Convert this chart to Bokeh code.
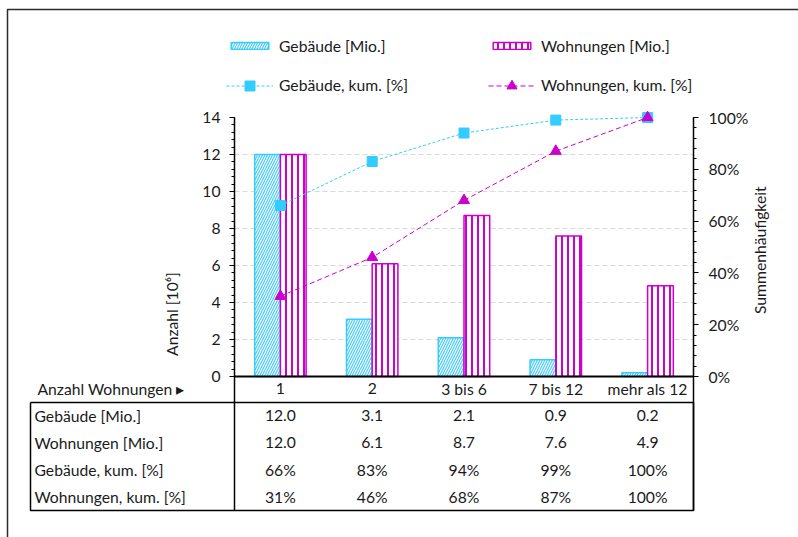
import math
from bokeh.plotting import figure
from bokeh.models import (Range1d, LinearAxis, FixedTicker, PrintfTickFormatter,
                          Legend, LegendItem, ColumnDataSource)
from bokeh.transform import dodge
from bokeh.core.properties import value
from bokeh.embed import file_html
from bokeh.resources import INLINE

# ---- data ---------------------------------------------------------------
categories = ["1", "2", "3 bis 6", "7 bis 12", "mehr als 12"]
gebaeude_mio = [12.0, 3.1, 2.1, 0.9, 0.2]
wohnungen_mio = [12.0, 6.1, 8.7, 7.6, 4.9]
gebaeude_kum = [66, 83, 94, 99, 100]
wohnungen_kum = [31, 46, 68, 87, 100]

row_names = ["Gebäude [Mio.]", "Wohnungen [Mio.]",
             "Gebäude, kum. [%]", "Wohnungen, kum. [%]"]
left_ticks = [0, 2, 4, 6, 8, 10, 12, 14]
right_ticks = [0, 20, 40, 60, 80, 100]

# ---- layout (pixels) ----------------------------------------------------
W, H = 798, 537
AX_L, AX_R = 234, 693        # left / right value axes
AX_TOP, TABLE_BOTTOM = 117, 510
Y0_PX = 376                  # pixel row of the value 0
Y_MAX = 14
n = len(categories)
unit_px = (Y0_PX - AX_TOP) / Y_MAX
cat_px = (AX_R - AX_L) / n


def dx(px):
    """canvas x pixel -> category coordinate"""
    return -0.5 + (px - AX_L) / cat_px


def dy(py):
    """canvas y pixel -> value coordinate (left axis)"""
    return (Y0_PX - py) / unit_px


def pct(v):
    return v / Y_MAX * 100


CYAN = "#33CCFF"
CYAN_HATCH = "#45CDFA"
MAGENTA = "#CC00CC"
TXT = "#1a1a1a"
FONT = "Lato"
FS = "15.7px"

# the frame fills the whole canvas; the axes sit at fixed locations in it
p = figure(width=W, height=H, x_range=Range1d(dx(0), dx(W)),
           y_range=Range1d(dy(H), dy(0)), output_backend="svg",
           toolbar_location=None, x_axis_location=None, y_axis_location=None,
           min_border=0, min_border_left=0, min_border_right=0,
           min_border_top=0, min_border_bottom=0)
p.outline_line_color = None
p.background_fill_color = "white"
p.border_fill_color = "white"
p.xgrid.visible = False
p.ygrid.visible = False

p.extra_y_ranges = {"pct": Range1d(pct(dy(H)), pct(dy(0)))}

# ---- horizontal gridlines (between the two value axes) ------------------
grid_vals = left_ticks[1:-1]
p.segment(x0=[dx(AX_L)] * len(grid_vals), y0=grid_vals,
          x1=[dx(AX_R)] * len(grid_vals), y1=grid_vals,
          line_color="#d9d9d9", line_width=1, line_dash="5 3")

# ---- axes ---------------------------------------------------------------
ya = LinearAxis(fixed_location=dx(AX_L), bounds=(dy(TABLE_BOTTOM), Y_MAX),
                ticker=FixedTicker(ticks=left_ticks,
                                   minor_ticks=[i * 0.4 for i in range(36)]),
                axis_label="Anzahl [10⁶]")
p.add_layout(ya, "left")

ra = LinearAxis(y_range_name="pct", fixed_location=dx(AX_R),
                bounds=(pct(dy(TABLE_BOTTOM)), 100),
                ticker=FixedTicker(ticks=right_ticks,
                                   minor_ticks=list(range(0, 101, 4))),
                formatter=PrintfTickFormatter(format="%d%%"),
                axis_label="Summenhäufigkeit",
                axis_label_orientation=math.pi / 2)
p.add_layout(ra, "right")

for ax in (ya, ra):
    ax.axis_line_color = "black"
    ax.axis_line_width = 1.5
    ax.major_tick_line_color = "black"
    ax.minor_tick_line_color = "black"
    ax.major_tick_in = 0
    ax.major_tick_out = 5
    ax.minor_tick_in = 0
    ax.minor_tick_out = 3
    ax.major_label_text_font = FONT
    ax.major_label_text_font_size = FS
    ax.major_label_text_color = TXT
    ax.axis_label_text_font = FONT
    ax.axis_label_text_font_size = FS
    ax.axis_label_text_font_style = "normal"
    ax.axis_label_text_color = TXT
ya.major_label_standoff = 9
ya.axis_label_standoff = 18
ra.major_label_standoff = 10
ra.axis_label_standoff = 9

# ---- bars and cumulative lines -----------------------------------------
src = ColumnDataSource(dict(x=list(range(n)), geb=gebaeude_mio,
                            woh=wohnungen_mio, gk=gebaeude_kum,
                            wk=wohnungen_kum))

r_geb = p.vbar(x=dodge("x", -0.14), top="geb", width=0.28, source=src,
               fill_color="white", line_color=CYAN, line_width=1.5,
               hatch_pattern="/", hatch_color=CYAN_HATCH, hatch_scale=5,
               hatch_weight=1.2)
r_woh = p.vbar(x=dodge("x", 0.14), top="woh", width=0.28, source=src,
               fill_color="white", line_color=MAGENTA, line_width=1.5,
               hatch_pattern="|", hatch_color=MAGENTA, hatch_scale=6,
               hatch_weight=2)

# category axis line
p.segment(x0=dx(AX_L), y0=0, x1=dx(AX_R), y1=0, line_color="black",
          line_width=2)

r_gl = p.line("x", "gk", source=src, y_range_name="pct", line_color=CYAN,
              line_width=1, line_dash="3 2")
r_gs = p.scatter("x", "gk", source=src, y_range_name="pct", marker="square",
                 size=10, fill_color=CYAN, line_color=CYAN)
r_wl = p.line("x", "wk", source=src, y_range_name="pct", line_color=MAGENTA,
              line_width=1, line_dash="5 3")
r_ws = p.scatter("x", "wk", source=src, y_range_name="pct",
                 marker="triangle", size=11, fill_color=MAGENTA,
                 line_color=MAGENTA)


# ---- legends ------------------------------------------------------------
def make_legend(items, glyph_h, center_py):
    h = max(glyph_h, 19)
    leg = Legend(items=items, orientation="horizontal",
                 location=(226, H - center_py - h / 2),
                 glyph_width=47, glyph_height=glyph_h, label_standoff=6,
                 label_width=209, spacing=0, padding=0, margin=0,
                 border_line_color=None, background_fill_alpha=0,
                 label_text_font=FONT, label_text_font_size=FS,
                 label_text_color=TXT)
    p.add_layout(leg)


make_legend([LegendItem(label="Gebäude [Mio.]", renderers=[r_geb]),
             LegendItem(label="Wohnungen [Mio.]", renderers=[r_woh])], 9, 45)
make_legend([LegendItem(label="Gebäude, kum. [%]", renderers=[r_gl, r_gs]),
             LegendItem(label="Wohnungen, kum. [%]", renderers=[r_wl, r_ws])],
            25, 85)

# ---- data table below the chart ----------------------------------------
cat_row_py = 388
row_py = [415, 442, 469, 496]
TABLE_TOP, TABLE_LEFT = 402, 30

row_texts = [[f"{v:.1f}" for v in gebaeude_mio],
             [f"{v:.1f}" for v in wohnungen_mio],
             [f"{v}%" for v in gebaeude_kum],
             [f"{v}%" for v in wohnungen_kum]]

tx, ty, tt = [], [], []
for i, c in enumerate(categories):
    tx.append(i); ty.append(dy(cat_row_py)); tt.append(c)
for r, texts in enumerate(row_texts):
    for i, t in enumerate(texts):
        tx.append(i); ty.append(dy(row_py[r])); tt.append(t)
p.text(x=tx, y=ty, text=tt, text_align="center", text_baseline="middle",
       text_font=value(FONT), text_font_size=FS, text_color=TXT)

head_x = [dx(37)] + [dx(34)] * len(row_names)
head_y = [dy(cat_row_py)] + [dy(v) for v in row_py]
head_t = ["Anzahl Wohnungen ▸"] + row_names
p.text(x=head_x, y=head_y, text=head_t, text_align="left",
       text_baseline="middle", text_font=value(FONT), text_font_size=FS,
       text_color=TXT)

# table frame
p.line(x=[dx(TABLE_LEFT), dx(AX_R), dx(AX_R), dx(TABLE_LEFT), dx(TABLE_LEFT)],
       y=[dy(TABLE_TOP), dy(TABLE_TOP), dy(TABLE_BOTTOM), dy(TABLE_BOTTOM),
          dy(TABLE_TOP)],
       line_color="black", line_width=1.5)

# outer border of the chart area (top and left edges)
p.line(x=[dx(W + 5), dx(7), dx(7)], y=[dy(9), dy(9), dy(H + 5)],
       line_color="#2b2b2b", line_width=1.5)

open("out.html", "w").write(file_html(p, INLINE))
